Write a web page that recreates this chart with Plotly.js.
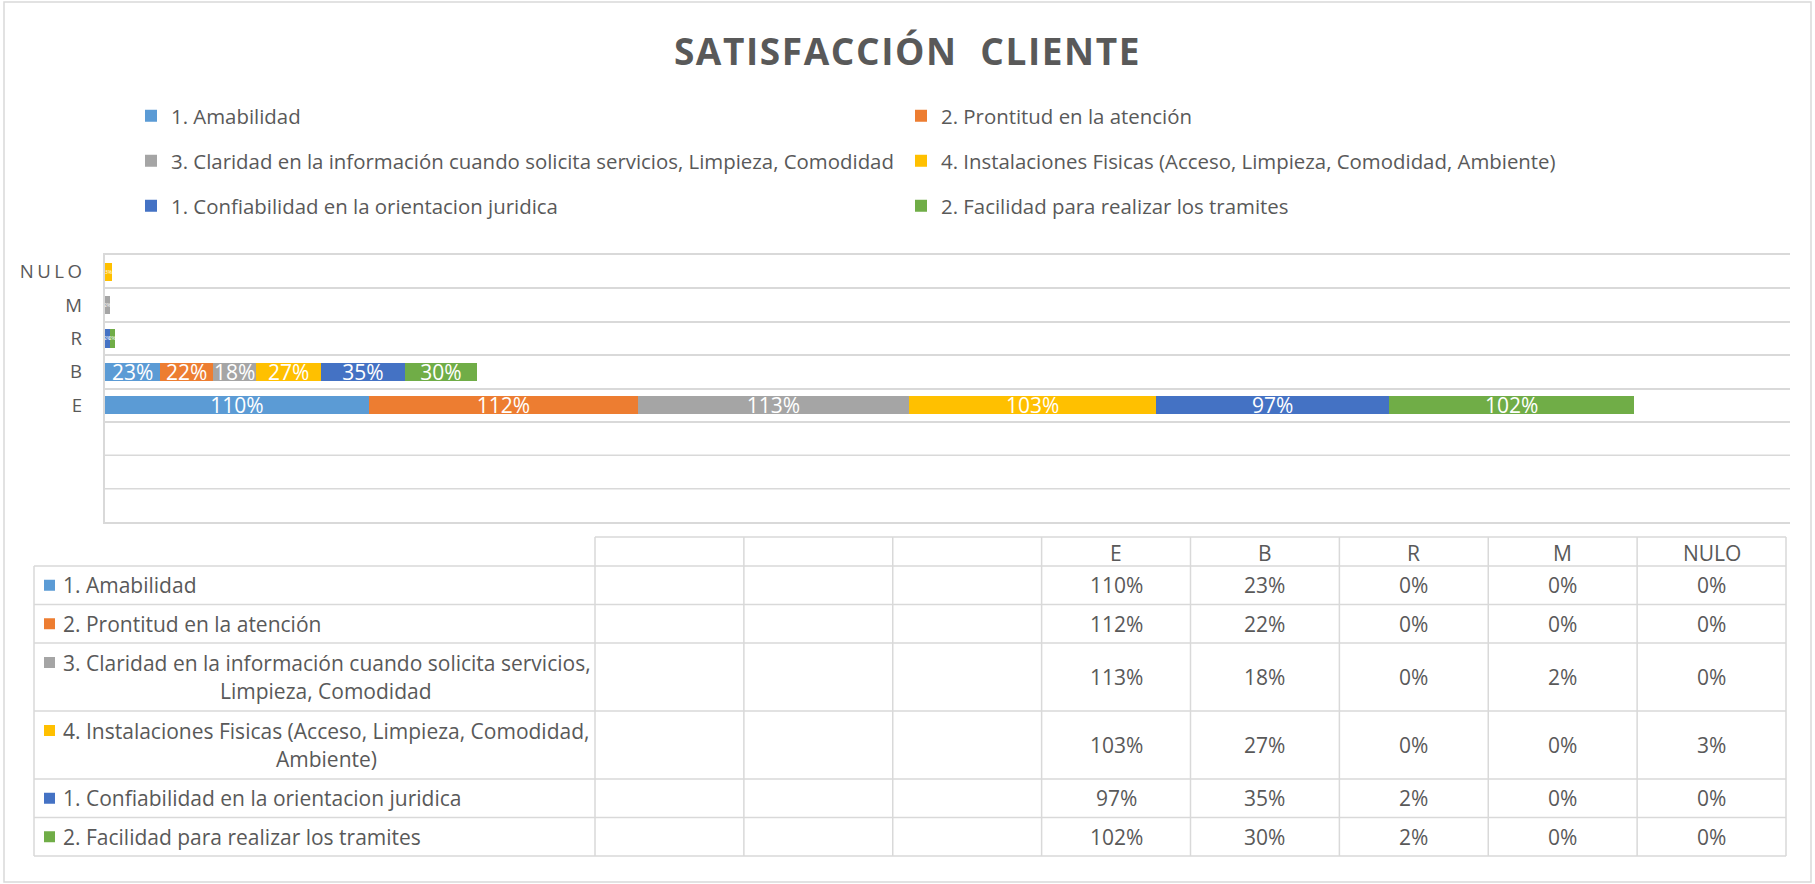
<!DOCTYPE html>
<html><head><meta charset="utf-8">
<script src="https://cdn.plot.ly/plotly-3.0.1.min.js"></script>
<style>
html,body{margin:0;padding:0;background:#fff;}
#chart{width:1815px;height:884px;}
.ytick text{letter-spacing:3.5px;}
.gtitle{letter-spacing:1.6px;}
</style></head><body><div id="chart"></div>
<script>
// ---- data ----
const categories = ['E', 'B', 'R', 'M', 'NULO'];
const seriesNames = [
  '1. Amabilidad',
  '2. Prontitud en la atención',
  '3. Claridad en la información cuando solicita servicios, Limpieza, Comodidad',
  '4. Instalaciones Fisicas (Acceso, Limpieza, Comodidad, Ambiente)',
  '1. Confiabilidad en la orientacion juridica',
  '2. Facilidad para realizar los tramites'
];
const amabilidad    = [110, 23, 0, 0, 0];
const prontitud     = [112, 22, 0, 0, 0];
const claridad      = [113, 18, 0, 2, 0];
const instalaciones = [103, 27, 0, 0, 3];
const confiabilidad = [97, 35, 2, 0, 0];
const facilidad     = [102, 30, 2, 0, 0];
const seriesValues = [amabilidad, prontitud, claridad, instalaciones, confiabilidad, facilidad];
const tableBlankColumns = ['', '', ''];

// ---- styles ----
const colors = ['#5B9BD5', '#ED7D31', '#A5A5A5', '#FFC000', '#4472C4', '#70AD47'];
const FONT = 'Open Sans, Roboto, sans-serif';
const TXT = '#595959';
const GRID = '#D9D9D9';

const W = 1815, H = 884;
const M = {l: 105, r: 25, t: 255, b: 362};
const PW = W - M.l - M.r, PH = H - M.t - M.b;
const X = px => (px - M.l) / PW;
const Y = py => (H - M.b - py) / PH;

// ---- traces ----
const traces = seriesNames.map((name, i) => ({
  type: 'bar',
  orientation: 'h',
  name: name,
  y: categories,
  x: seriesValues[i],
  text: seriesValues[i].map(v => v > 0 ? v + '%' : ''),
  textposition: 'inside',
  insidetextanchor: 'middle',
  constraintext: 'none',
  textangle: 0,
  textfont: {family: FONT, size: seriesValues[i].map(v => v >= 10 ? 21 : 5), color: '#FFFFFF'},
  marker: {color: colors[i], line: {width: 0}},
  legend: ['legend', 'legend2', 'legend3'][Math.floor(i / 2)],
  hoverinfo: 'x+name'
}));

// ---- legends ----
const legendRowsY = [116, 161, 206];
function legendObj(row) {
  return {
    orientation: 'h', xref: 'container', yref: 'container',
    x: 131 / W, xanchor: 'left', y: 1 - legendRowsY[row] / H, yanchor: 'middle',
    entrywidth: 725, entrywidthmode: 'pixels',
    font: {family: FONT, size: 20.4, color: TXT},
    bgcolor: 'rgba(0,0,0,0)', traceorder: 'normal', borderwidth: 0
  };
}

// ---- data table (shapes + annotations) ----
const shapes = [];
const annotations = [];
const line = (x0, y0, x1, y1) => shapes.push({type: 'line', xref: 'paper', yref: 'paper',
  x0: X(x0), x1: X(x1), y0: Y(y0), y1: Y(y1), line: {color: GRID, width: 1.5}, layer: 'above'});

// outer chart border
shapes.push({type: 'rect', xref: 'paper', yref: 'paper', x0: X(4), x1: X(1811), y0: Y(882), y1: Y(2),
  line: {color: GRID, width: 1.5}, fillcolor: 'rgba(0,0,0,0)'});

// category gridlines for the three empty category slots below "E"
[-2.5, -1.5].forEach(v => shapes.push({type: 'line', xref: 'paper', yref: 'y', x0: 0, x1: 1, y0: v, y1: v,
  line: {color: GRID, width: 1.5}, layer: 'below'}));

function wrap(text, maxChars) {
  const words = text.split(' ');
  const lines = [];
  let cur = '';
  words.forEach(w => {
    const cand = cur ? cur + ' ' + w : w;
    if (cand.length > maxChars && cur) { lines.push(cur); cur = w; } else { cur = cand; }
  });
  if (cur) lines.push(cur);
  return lines;
}

const tabLeft = 34, labRight = 595, colW = 148.875;
const headerTop = 537, headerH = 29, singleH = 38.5, doubleH = 68;
const headers = tableBlankColumns.concat(categories);
const tabRight = labRight + headers.length * colW;
const rowTops = [];
let yy = headerTop + headerH;
const wrapped = seriesNames.map(n => wrap(n, 56));
wrapped.forEach(lines => { rowTops.push(yy); yy += lines.length > 1 ? doubleH : singleH; });
const tabBottom = yy;

// horizontal lines
line(labRight, headerTop, tabRight, headerTop);
line(tabLeft, headerTop + headerH, tabRight, headerTop + headerH);
rowTops.slice(1).forEach(t => line(tabLeft, t, tabRight, t));
line(tabLeft, tabBottom, tabRight, tabBottom);
// vertical lines
line(tabLeft, headerTop + headerH, tabLeft, tabBottom);
for (let c = 0; c <= headers.length; c++) line(labRight + c * colW, headerTop, labRight + c * colW, tabBottom);

const ann = (x, y, text, xanchor) => annotations.push({xref: 'paper', yref: 'paper', x: X(x), y: Y(y),
  text: text, showarrow: false, xanchor: xanchor, yanchor: 'middle', borderpad: 0,
  font: {family: FONT, size: 21, color: TXT}});

headers.forEach((h, c) => { if (h) ann(labRight + (c + 0.5) * colW, headerTop + headerH / 2 + 1, h, 'center'); });

wrapped.forEach((lines, r) => {
  const top = rowTops[r];
  const h = lines.length > 1 ? doubleH : singleH;
  const firstY = lines.length > 1 ? top + 19.5 : top + h / 2;
  shapes.push({type: 'rect', xref: 'paper', yref: 'paper', x0: X(44), x1: X(55),
    y0: Y(firstY + 5.5), y1: Y(firstY - 5.5), fillcolor: colors[r], line: {width: 0}});
  ann(62, firstY, lines[0], 'left');
  if (lines.length > 1) ann((57 + labRight) / 2, top + 48, lines[1], 'center');
  seriesValues[r].forEach((v, k) => {
    ann(labRight + (tableBlankColumns.length + k + 0.5) * colW, top + h / 2, v + '%', 'center');
  });
});

const layout = {
  width: W, height: H,
  margin: M,
  paper_bgcolor: '#FFFFFF', plot_bgcolor: '#FFFFFF',
  font: {family: FONT, color: TXT},
  title: {text: 'SATISFACCIÓN\u00A0 CLIENTE', xref: 'container', x: 0.5, xanchor: 'center',
    yref: 'container', y: 1 - 52 / H, yanchor: 'middle',
    font: {family: FONT, size: 37, color: TXT, weight: 700}},
  barmode: 'stack', bargap: 0.45,
  xaxis: {range: [0, 702], showticklabels: false, showgrid: false, zeroline: false,
    showline: true, mirror: true, linecolor: GRID, linewidth: 1.5, ticks: '', fixedrange: true},
  yaxis: {type: 'category', categoryorder: 'array', categoryarray: categories,
    range: [-3.5, 4.5], tickson: 'boundaries', ticks: '', showgrid: true, gridcolor: GRID, gridwidth: 1.5,
    showline: true, linecolor: GRID, linewidth: 1.5, zeroline: false, ticklabelstandoff: 14,
    tickfont: {family: FONT, size: 18.6, color: TXT}, fixedrange: true},
  legend: legendObj(0), legend2: legendObj(1), legend3: legendObj(2),
  shapes: shapes, annotations: annotations,
  showlegend: true
};

Plotly.newPlot('chart', traces, layout, {displayModeBar: false, staticPlot: false});
</script></body></html>
